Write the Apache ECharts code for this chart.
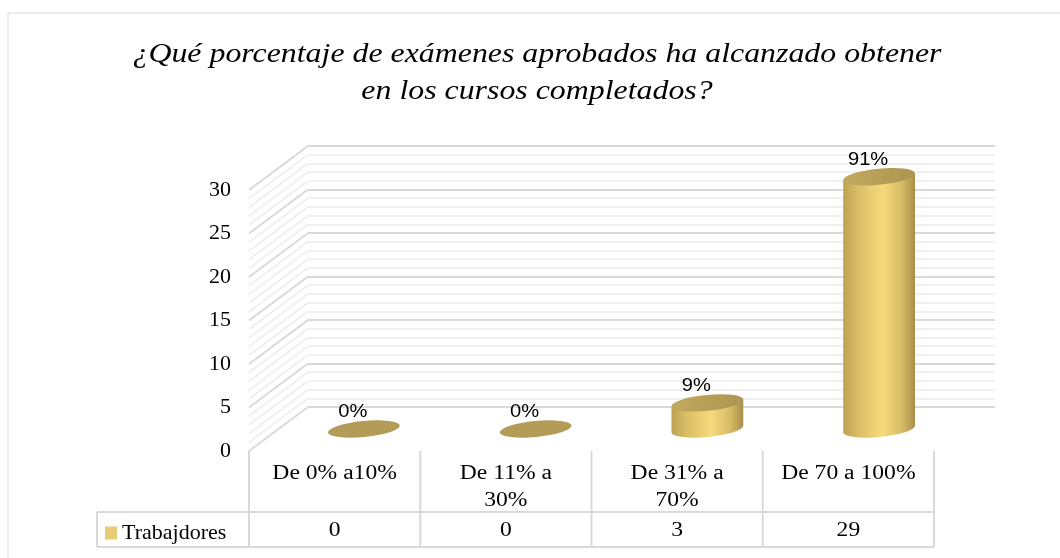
<!DOCTYPE html>
<html>
<head>
<meta charset="utf-8">
<script src="https://cdn.jsdelivr.net/npm/echarts@6/dist/echarts.min.js"></script>
<style>
html, body { margin: 0; padding: 0; background: #fff; }
#chart { width: 1060px; height: 558px; }
</style>
</head>
<body>
<div id="chart"></div>
<script>
// datos del grafico
var categorias = ['De 0% a10%', 'De 11% a\n30%', 'De 31% a\n70%', 'De 70 a 100%'];
var trabajadores = [0, 0, 3, 29];
var porcentajes = ['0%', '0%', '9%', '91%'];
var nombreSerie = 'Trabajdores';
var titulo = '¿Qué porcentaje de exámenes aprobados ha alcanzado obtener\nen los cursos completados?';
var yMin = 0, yMax = 30, yPaso = 5;

var serif = '"Liberation Serif", "Times New Roman", serif';
var estirar = 1.18; // el original esta algo ensanchado

// niveles de las lineas de la pared lateral (una por unidad)
var niveles = [];
for (var v = yMin; v <= yMax; v++) {
    niveles.push([0, v]);
}

function paredLateral(params, api) {
    var y = api.coord([0, api.value(1)])[1];
    var x = params.coordSys.x;
    var mayor = api.value(1) % yPaso === 0;
    return {
        type: 'line',
        shape: { x1: x, y1: y, x2: x - 59, y2: y + 44 },
        style: { stroke: mayor ? '#d9d9d9' : '#ededed', lineWidth: mayor ? 2 : 1.5 }
    };
}

function elipse(cx, cy, rx, ry, rot) {
    var a = rot * Math.PI / 180;
    var dx = rx * Math.cos(a), dy = rx * Math.sin(a);
    return 'M' + (cx - dx) + ' ' + (cy - dy) +
        ' A' + rx + ' ' + ry + ' ' + rot + ' 1 0 ' + (cx + dx) + ' ' + (cy + dy) +
        ' A' + rx + ' ' + ry + ' ' + rot + ' 1 0 ' + (cx - dx) + ' ' + (cy - dy) + ' Z';
}

function cilindro(params, api) {
    var i = api.value(0);
    var val = api.value(1);
    var base = api.coord([i, 0]);
    var tope = api.coord([i, val]);
    var rx = api.size([1, 0])[0] * 0.21;
    var ry = 8;
    var rot = -5.5;
    var a = rot * Math.PI / 180;
    var dx = rx * Math.cos(a), dy = rx * Math.sin(a);
    var cx = base[0];
    var hijos = [];
    if (val > 0) {
        var cuerpo = 'M' + (cx - dx) + ' ' + (tope[1] - dy) +
            ' L' + (cx - dx) + ' ' + (base[1] - dy) +
            ' A' + rx + ' ' + ry + ' ' + rot + ' 0 0 ' + (cx + dx) + ' ' + (base[1] + dy) +
            ' L' + (cx + dx) + ' ' + (tope[1] + dy) + ' Z';
        hijos.push({
            type: 'path',
            shape: { pathData: cuerpo },
            style: {
                fill: {
                    type: 'linear', x: 0, y: 0, x2: 1, y2: 0,
                    colorStops: [
                        { offset: 0, color: '#bca253' },
                        { offset: 0.2, color: '#d8bd66' },
                        { offset: 0.55, color: '#f6da7b' },
                        { offset: 0.82, color: '#d6bb65' },
                        { offset: 1, color: '#a68e4a' }
                    ]
                }
            }
        });
        hijos.push({
            type: 'path',
            shape: { pathData: elipse(cx, tope[1], rx, ry, rot) },
            style: {
                fill: {
                    type: 'linear', x: 0, y: 0, x2: 1, y2: 0,
                    colorStops: [
                        { offset: 0, color: '#c2a95e' },
                        { offset: 1, color: '#ad9552' }
                    ]
                }
            }
        });
    } else {
        hijos.push({
            type: 'path',
            shape: { pathData: elipse(cx, base[1], rx, ry, rot) },
            style: { fill: '#b39b58' }
        });
    }
    hijos.push({
        type: 'text',
        x: cx - 11,
        y: tope[1] - 17,
        scaleX: 1.06,
        style: {
            text: porcentajes[i],
            font: '19px "Liberation Sans", Arial, sans-serif',
            fill: '#000',
            align: 'center',
            verticalAlign: 'middle'
        }
    });
    return { type: 'group', children: hijos };
}

function tabla(params, api) {
    var i = api.value(0);
    var cs = params.coordSys;
    var ancho = api.size([1, 0])[0];
    var cx = api.coord([i, 0])[0];
    var x0 = cx - ancho / 2, x1 = cx + ancho / 2;
    var yTop = cs.y, yMid = cs.y + 61, yBot = cs.y + cs.height;
    var borde = { stroke: '#d9d9d9', lineWidth: 2 };
    var hijos = [
        { type: 'line', shape: { x1: x0, y1: yTop, x2: x0, y2: yBot }, style: borde },
        { type: 'line', shape: { x1: x0, y1: yMid, x2: x1, y2: yMid }, style: borde },
        { type: 'line', shape: { x1: x0, y1: yBot, x2: x1, y2: yBot }, style: borde },
        {
            type: 'text', x: cx, y: yTop + 9, scaleX: estirar,
            style: {
                text: categorias[i], font: '20px ' + serif, fill: '#000',
                align: 'center', verticalAlign: 'top', lineHeight: 27
            }
        },
        {
            type: 'text', x: cx, y: (yMid + yBot) / 2 + 1, scaleX: estirar,
            style: {
                text: String(api.value(1)), font: '20px ' + serif, fill: '#000',
                align: 'center', verticalAlign: 'middle'
            }
        }
    ];
    if (i === categorias.length - 1) {
        hijos.push({ type: 'line', shape: { x1: x1, y1: yTop, x2: x1, y2: yBot }, style: borde });
    }
    if (i === 0) {
        var xl = x0 - 152;
        hijos.push({ type: 'line', shape: { x1: xl, y1: yMid, x2: x0, y2: yMid }, style: borde });
        hijos.push({ type: 'line', shape: { x1: xl, y1: yBot, x2: x0, y2: yBot }, style: borde });
        hijos.push({ type: 'line', shape: { x1: xl, y1: yMid, x2: xl, y2: yBot }, style: borde });
    }
    return { type: 'group', children: hijos };
}

var datosCil = [];
for (var i = 0; i < categorias.length; i++) {
    datosCil.push([i, trabajadores[i]]);
}

var chart = echarts.init(document.getElementById('chart'));
var option = {
    backgroundColor: '#fff',
    animation: false,
    graphic: [
        {
            type: 'rect', silent: true,
            shape: { x: 8, y: 13, width: 1070, height: 560 },
            style: { fill: 'none', stroke: '#d9d9d9', lineWidth: 1 }
        },
        {
            type: 'text', x: 537, y: 36.5, scaleX: estirar,
            style: {
                text: titulo, font: 'italic 27px ' + serif, fill: '#000',
                align: 'center', verticalAlign: 'top', lineHeight: 37
            }
        }
    ],
    legend: {
        data: [nombreSerie],
        left: 105,
        top: 522,
        padding: 0,
        icon: 'rect',
        itemWidth: 12,
        itemHeight: 13,
        selectedMode: false,
        textStyle: { fontFamily: serif, fontSize: 22, color: '#000' }
    },
    grid: [
        { left: 308, right: 65, top: 146, bottom: 151 },
        { left: 249, right: 126, top: 190, bottom: 107 },
        { left: 278, right: 95, top: 168, bottom: 129 },
        { left: 249, right: 126, top: 451, bottom: 11 }
    ],
    xAxis: [0, 1, 2, 3].map(function (g) {
        return { type: 'category', gridIndex: g, data: categorias, show: false };
    }),
    yAxis: [
        {
            type: 'value', gridIndex: 0, min: yMin, max: yMax, interval: yPaso,
            axisLabel: { show: false }, axisLine: { show: false }, axisTick: { show: false },
            splitLine: { lineStyle: { color: '#d9d9d9', width: 2 } },
            minorTick: { show: false, splitNumber: 5 },
            minorSplitLine: { show: true, lineStyle: { color: '#ededed', width: 1.5 } }
        },
        {
            type: 'value', gridIndex: 1, min: yMin, max: yMax, interval: yPaso,
            axisLine: { show: false }, axisTick: { show: false }, splitLine: { show: false },
            axisLabel: { margin: 18, fontFamily: serif, fontSize: 22, color: '#000' }
        },
        { type: 'value', gridIndex: 2, min: yMin, max: yMax, show: false, splitLine: { show: false } },
        { type: 'value', gridIndex: 3, min: 0, max: 1, show: false, splitLine: { show: false } }
    ],
    series: [
        {
            name: 'pared', type: 'custom', xAxisIndex: 0, yAxisIndex: 0, silent: true, z: 1,
            renderItem: paredLateral, data: niveles, encode: { x: 0, y: 1 }
        },
        {
            name: nombreSerie, type: 'custom', xAxisIndex: 2, yAxisIndex: 2, z: 5,
            itemStyle: { color: '#e8cc74' },
            renderItem: cilindro, data: datosCil, encode: { x: 0, y: 1 }
        },
        {
            name: 'tabla', type: 'custom', xAxisIndex: 3, yAxisIndex: 3, silent: true, z: 3,
            renderItem: tabla, data: datosCil, encode: { x: 0 }
        }
    ]
};
chart.setOption(option);
</script>
</body>
</html>
